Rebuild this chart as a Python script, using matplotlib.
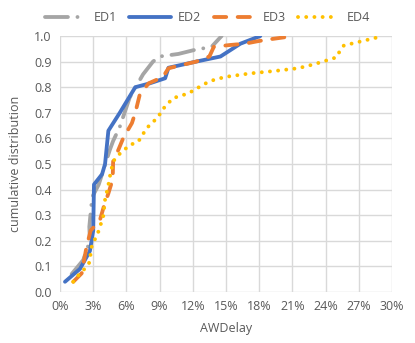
import matplotlib.pyplot as plt
from matplotlib.ticker import FuncFormatter, MultipleLocator

plt.rcParams['font.family'] = ['Open Sans', 'DejaVu Sans']

# x values are AWDelay in percent, y values cumulative share
ed1_x = [1.05, 2.1, 2.7, 2.65, 2.9, 3.5, 4.5, 4.8, 5.4, 6.3, 7.5, 8.4, 9.0, 10.7, 12.1, 13.7, 14.6]
ed1_y = [0.07, 0.125, 0.2, 0.255, 0.37, 0.42, 0.555, 0.59, 0.645, 0.76, 0.85, 0.90, 0.92, 0.93, 0.945, 0.958, 1.0]

ed2_x = [0.45, 1.8, 2.7, 3.0, 3.07, 3.8, 4.07, 4.37, 5.4, 6.8, 8.1, 9.5, 9.8, 12.3, 14.5, 16.3, 18.1]
ed2_y = [0.04, 0.09, 0.16, 0.24, 0.42, 0.46, 0.50, 0.63, 0.70, 0.80, 0.815, 0.835, 0.876, 0.90, 0.92, 0.97, 1.0]

ed3_x = [1.2, 1.96, 2.4, 2.77, 3.6, 4.0, 4.37, 4.76, 4.8, 5.27, 5.7, 6.5, 6.8, 7.2, 8.0, 9.3, 9.8,
         12.3, 13.5, 13.9, 15.4, 16.7, 17.9, 19.1, 20.6, 21.0]
ed3_y = [0.04, 0.073, 0.177, 0.24, 0.28, 0.34, 0.385, 0.44, 0.51, 0.555, 0.60, 0.66, 0.70, 0.77, 0.815, 0.84, 0.874,
         0.90, 0.92, 0.958, 0.965, 0.97, 0.98, 0.988, 0.997, 1.0]

ed4_x = [1.2, 1.8, 2.26, 2.65, 2.86, 3.46, 3.9, 4.07, 4.37, 4.5, 4.8, 5.27, 6.3, 7.07, 7.83, 8.9, 9.2,
         10.2, 11.6, 12.95, 13.55, 14.9, 17.2, 19.3, 21.5, 22.9, 23.6, 25.0, 25.3, 25.65, 27.1, 29.2]
ed4_y = [0.04, 0.073, 0.092, 0.115, 0.177, 0.235, 0.294, 0.36, 0.418, 0.45, 0.51, 0.535, 0.574, 0.587, 0.64, 0.685, 0.71,
         0.757, 0.776, 0.81, 0.824, 0.84, 0.854, 0.863, 0.874, 0.889, 0.898, 0.917, 0.943, 0.963, 0.978, 1.0]

x_ticks = [0, 3, 6, 9, 12, 15, 18, 21, 24, 27, 30]

fig = plt.figure(figsize=(4.15, 3.43), dpi=100)
ax = fig.add_axes([0.1446, 0.1487, 0.80, 0.7463])

ax.plot(ed1_x, ed1_y, color='#A5A5A5', lw=2.75, label='ED1',
        linestyle=(0, (6, 2.5, 0.01, 2.5)), dash_capstyle='round', solid_capstyle='round')
ax.plot(ed2_x, ed2_y, color='#4472C4', lw=2.75, label='ED2',
        solid_capstyle='round', solid_joinstyle='round')
ax.plot(ed3_x, ed3_y, color='#ED7D31', lw=2.75, label='ED3',
        linestyle=(0, (3.2, 3)), dash_capstyle='round')
ax.plot(ed4_x, ed4_y, color='#FFC000', lw=2.8, label='ED4',
        linestyle=(0, (0.01, 2.1)), dash_capstyle='round')

ax.set_xlim(0, 30)
ax.set_ylim(0, 1)
ax.set_xticks(x_ticks)
ax.xaxis.set_major_formatter(FuncFormatter(lambda v, p: '%d%%' % v))
ax.yaxis.set_major_locator(MultipleLocator(0.1))
ax.yaxis.set_major_formatter(FuncFormatter(lambda v, p: '%.1f' % v))
ax.grid(True, color='#D9D9D9', lw=1)
ax.set_axisbelow(True)
for s in ax.spines.values():
    s.set_visible(False)
ax.tick_params(length=0, labelsize=9, labelcolor='#595959', pad=6)
ax.set_xlabel('AWDelay', fontsize=9, color='#595959', labelpad=6)
ax.set_ylabel('cumulative distribution', fontsize=9, color='#595959', labelpad=9)

fig.legend(loc='upper center', bbox_to_anchor=(0.5, 1.0), ncol=4, frameon=False,
           fontsize=9, labelcolor='#595959', handlelength=3.3, columnspacing=1.0,
           handletextpad=0.6)

fig.savefig('out.png', dpi=100)
